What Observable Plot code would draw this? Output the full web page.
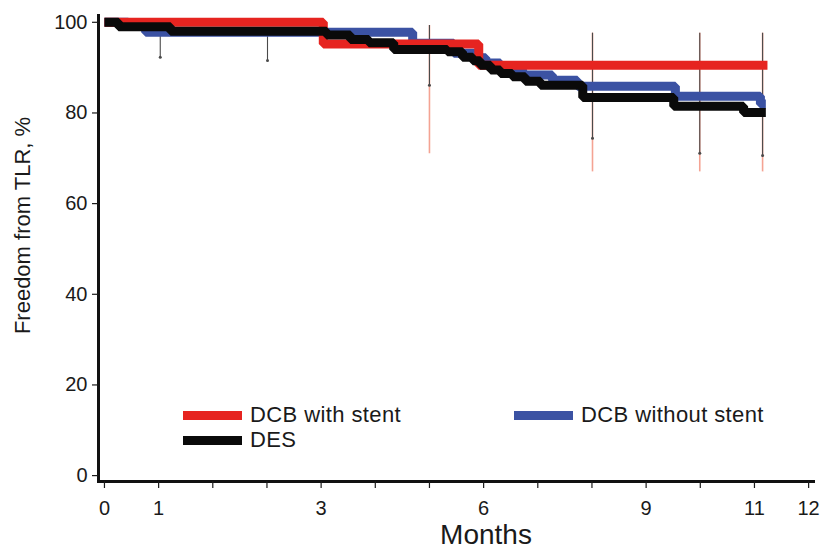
<!DOCTYPE html>
<html>
<head>
<meta charset="utf-8">
<script src="https://cdn.jsdelivr.net/npm/d3@7"></script>
<script src="https://cdn.jsdelivr.net/npm/@observablehq/plot@0.6"></script>
<style>
  html, body { margin: 0; padding: 0; background: #fff; }
  #wrap { position: relative; width: 822px; height: 551px; font-family: "Liberation Sans", Arial, sans-serif; color: #1a1a1a; }
  #wrap svg { display: block; }
  .leg { position: absolute; display: flex; align-items: center; font-size: 22px; letter-spacing: 0.4px; }
  .sw { width: 59px; height: 9px; margin-right: 8px; }
</style>
</head>
<body>
<div id="wrap"></div>
<script>
// ---- data (x in axis tick units; tick labels below) ----
const xTickLabels = ["0","1","","","3","","","6","","","9","","11","12"];
const yTicks = [0, 20, 40, 60, 80, 100];

const stentTime = [0, 4.04, 6.91, 12.24];
const stentSurv = [100, 95.2, 90.5, 90.5];

const noStentTime = [0, 0.44, 0.76, 5.69, 6.45, 6.91, 7.04, 7.31, 7.72, 8.27, 8.73, 10.54, 12.11, 12.21];
const noStentSurv = [100, 99.4, 97.8, 95.4, 93.2, 92.2, 91.0, 89.6, 88.4, 87.2, 85.9, 83.7, 82.0, 82.0];

const desTime = [0, 0.26, 1.22, 4.1, 4.54, 4.88, 5.34, 6.33, 6.61, 6.80, 6.94, 7.13, 7.31, 7.53, 7.77, 8.05, 8.83, 10.51, 11.80, 12.21];
const desSurv = [100, 99.0, 98.0, 97.2, 96.2, 95.5, 94.0, 93.5, 92.3, 91.5, 90.5, 89.5, 88.7, 88.0, 87.0, 86.1, 83.4, 81.5, 80.1, 80.1];

// confidence bars
const stentCITime = [6.0, 9.01, 10.99, 12.15];
const stentCILow  = [71, 67, 67, 67];
const stentCIHigh = [99.3, 97.6, 97.6, 97.6];

const desCITime = [1.03, 3.01, 6.0, 9.01, 10.99, 12.15];
const desCILow  = [92.3, 91.6, 86.1, 74.4, 71.1, 70.6];
const desCIHigh = [98.5, 98.0, 99.3, 97.6, 97.6, 97.6];

const seriesNames = ["DCB with stent", "DCB without stent", "DES"];
const seriesColors = ["#e62420", "#3b52a3", "#0a0a0a"];

// ---- build tables ----
const toRows = (t, s, name) => t.map((d, i) => ({time: d, surv: s[i], series: name}));
const stentRows = toRows(stentTime, stentSurv, seriesNames[0]);
const noStentRows = toRows(noStentTime, noStentSurv, seriesNames[1]);
const desRows = toRows(desTime, desSurv, seriesNames[2]);
const stentCI = stentCITime.map((t, i) => ({time: t, lo: stentCILow[i], hi: stentCIHigh[i]}));
const desCI = desCITime.map((t, i) => ({time: t, lo: desCILow[i], hi: desCIHigh[i]}));

const lineOpts = (color) => ({x: "time", y: "surv", curve: "step-after", stroke: color, strokeWidth: 9, strokeLinejoin: "miter", strokeLinecap: "butt"});

const chart = Plot.plot({
  width: 822,
  height: 551,
  marginLeft: 98,
  marginRight: 9,
  marginTop: 15,
  marginBottom: 70,
  style: {fontFamily: "Liberation Sans, Arial, sans-serif", color: "#1a1a1a", background: "#fff"},
  x: {type: "linear", domain: [-0.11, 13.09]},
  y: {type: "linear", domain: [-1.3, 101.5]},
  marks: [
    Plot.ruleX(stentCI, {x: "time", y1: "lo", y2: "hi", stroke: "#f4a393", strokeWidth: 1.6}),
    Plot.ruleX(desCI, {x: "time", y1: "lo", y2: "hi", stroke: "#4a4a4a", strokeWidth: 1.1}),
    Plot.dot(desCI, {x: "time", y: "lo", r: 1.5, fill: "#4a4a4a", stroke: null}),
    Plot.line(noStentRows, lineOpts(seriesColors[1])),
    Plot.line(stentRows, lineOpts(seriesColors[0])),
    Plot.line(desRows, lineOpts(seriesColors[2])),
    Plot.frame({anchor: "left", stroke: "#111", strokeWidth: 3}),
    Plot.frame({anchor: "bottom", stroke: "#111", strokeWidth: 3}),
    Plot.axisY({ticks: yTicks, tickSize: 6, tickPadding: 5, fontSize: 20, label: null, strokeWidth: 1.2}),
    Plot.axisX({ticks: d3.range(0, 14), tickFormat: (i) => xTickLabels[i], tickSize: 7, tickPadding: 12, fontSize: 20, label: null, strokeWidth: 1.2}),
    Plot.text(["Freedom from TLR, %"], {text: (d) => d, frameAnchor: "left", textAnchor: "middle", lineAnchor: "middle", rotate: -90, dx: -76, dy: -23, fontSize: 22, fill: "#1a1a1a"}),
    Plot.text(["Months"], {text: (d) => d, frameAnchor: "bottom", dx: 30, dy: 62, fontSize: 28, fill: "#1a1a1a"})
  ]
});

const wrap = document.getElementById("wrap");
wrap.appendChild(chart);

// legend overlay
const legendItems = [
  {name: seriesNames[0], color: seriesColors[0], left: 183, top: 402},
  {name: seriesNames[2], color: seriesColors[2], left: 183, top: 427},
  {name: seriesNames[1], color: seriesColors[1], left: 514, top: 402}
];
for (const it of legendItems) {
  const el = document.createElement("div");
  el.className = "leg";
  el.style.left = it.left + "px";
  el.style.top = it.top + "px";
  el.style.height = "26px";
  const sw = document.createElement("div");
  sw.className = "sw";
  sw.style.background = it.color;
  const tx = document.createElement("span");
  tx.textContent = it.name;
  el.appendChild(sw);
  el.appendChild(tx);
  wrap.appendChild(el);
}
</script>
</body>
</html>
